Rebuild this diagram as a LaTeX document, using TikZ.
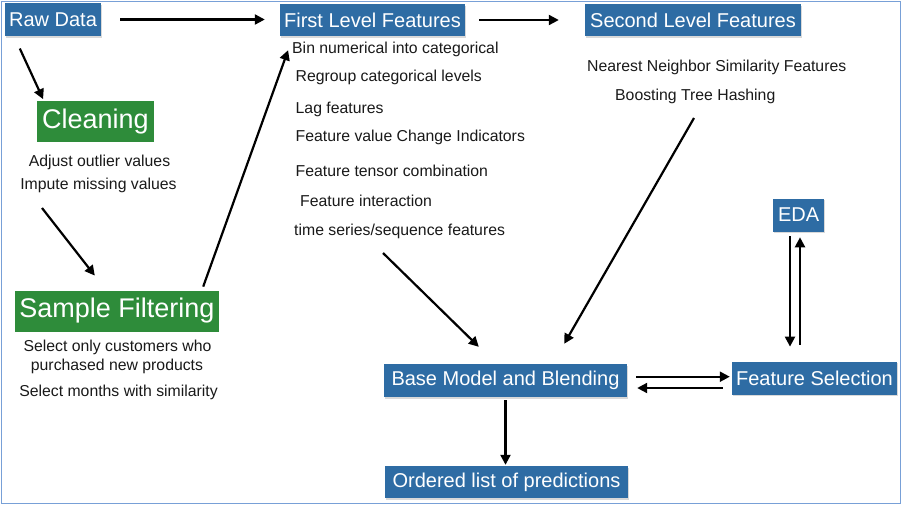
\documentclass[tikz,border=0pt]{standalone}
\usepackage{fontspec}
\setmainfont{Liberation Sans}
\usetikzlibrary{arrows.meta,shadows,calc}
\definecolor{boxblue}{RGB}{46,108,164}
\definecolor{boxgreen}{RGB}{46,140,58}
\definecolor{framebl}{RGB}{120,160,215}
\begin{document}
\begin{tikzpicture}[x=1pt,y=-1pt,
  bluebox/.style={fill=boxblue, text=white, inner sep=0pt,
    font=\fontsize{20}{22}\selectfont,
    drop shadow={opacity=0.3,shadow xshift=1pt,shadow yshift=-1.5pt}},
  greenbox/.style={fill=boxgreen, text=white, inner sep=0pt,
    font=\fontsize{27}{30}\selectfont},
  note/.style={inner sep=0pt, font=\fontsize{15.8}{18}\selectfont, text=black!90},
  arr/.style={line width=2.2pt, -{Triangle[length=10pt,width=10pt]}}
]
\useasboundingbox (0,0) rectangle (904,507);
\draw[framebl, line width=1pt] (1.5,1.5) rectangle (900,503.5);

% boxes
\node[bluebox, minimum width=96pt, minimum height=33pt] (rd) at (53,19.5) {Raw Data};
\node[bluebox, minimum width=185pt, minimum height=32pt] (flf) at (372.5,20) {First Level Features};
\node[bluebox, minimum width=216pt, minimum height=32pt] (slf) at (693,20) {Second Level Features};
\node[greenbox, minimum width=117pt, minimum height=41pt] (cl) at (95.3,121.3) {Cleaning};
\node[greenbox, minimum width=204pt, minimum height=41pt] (sf) at (117,311) {Sample Filtering};
\node[bluebox, minimum width=51pt, minimum height=33pt] (eda) at (798.7,215) {EDA};
\node[bluebox, minimum width=165pt, minimum height=33pt] (fs) at (814.5,378.3) {Feature Selection};
\node[bluebox, minimum width=243pt, minimum height=33pt] (bm) at (505.5,380.5) {Base Model and Blending};
\node[bluebox, minimum width=243pt, minimum height=32pt] (ord) at (506.5,482) {Ordered list of predictions};

% notes
\node[note, anchor=base] (cn1) at (99.5,166.7) {Adjust outlier values};
\node[note, anchor=base] (cn2) at (98.5,189) {Impute missing values};
\node[note, anchor=base] (sn1) at (117.5,351.7) {Select only customers who};
\node[note, anchor=base] (sn2) at (117,370) {purchased new products};
\node[note, anchor=base] (sn3) at (118.5,396.7) {Select months with similarity};

\node[note, anchor=base west] (f1) at (292,53.3) {Bin numerical into categorical};
\node[note, anchor=base west] (f2) at (295.5,81) {Regroup categorical levels};
\node[note, anchor=base west] (f3) at (295.5,113) {Lag features};
\node[note, anchor=base west] (f4) at (295.5,141.7) {Feature value Change Indicators};
\node[note, anchor=base west] (f5) at (295.5,176.7) {Feature tensor combination};
\node[note, anchor=base west] (f6) at (300,206.7) {Feature interaction};
\node[note, anchor=base west] (ts) at (294,235.7) {time series/sequence features};

\node[note, anchor=base west] (nn) at (587,71.7) {Nearest Neighbor Similarity Features};
\node[note, anchor=base west] (bth) at (615,100) {Boosting Tree Hashing};

% connectors
\draw[arr, shorten <=19pt, shorten >=15pt] (rd.east) -- (rd.east -| flf.west);
\draw[arr, shorten <=14pt, shorten >=26pt] (flf.east) -- (flf.east -| slf.west);
\draw[arr] ([shift={(15,12.3)}]rd.south west) -- ([shift={(6.5,-1.5)}]cl.north west);
\draw[arr] ([shift={(-56.5,19)}]cn2.base) -- ([shift={(80,-14.7)}]sf.north west);
\draw[arr] ([shift={(-16,-3.7)}]sf.north east) -- ([shift={(8.3,14)}]flf.south west);
\draw[arr] ([shift={(89,17.3)}]ts.base west) -- ([shift={(95,-17)}]bm.north west);
\draw[arr] ([shift={(79,18)}]bth.base west) -- ([shift={(-63,-20)}]bm.north east);
\draw[arr, shorten <=3pt, shorten >=1pt] (bm.south) -- (bm.south |- ord.north);
\draw[arr, shorten <=9pt, shorten >=2pt] ([shift={(0,-3.8)}]bm.east) -- ([shift={(0,-3.8)}]bm.east -| fs.west);
\draw[arr, shorten <=9pt, shorten >=10pt] ([shift={(0,7.5)}]bm.east -| fs.west) -- ([shift={(0,7.5)}]bm.east);
\draw[arr, shorten <=4.3pt, shorten >=15pt] ([shift={(-8.7,0)}]eda.south) -- ([shift={(-8.7,0)}]eda.south |- fs.north);
\draw[arr, shorten <=16.7pt, shorten >=5.6pt] ([shift={(1.3,0)}]eda.south |- fs.north) -- ([shift={(1.3,0)}]eda.south);
\end{tikzpicture}
\end{document}
